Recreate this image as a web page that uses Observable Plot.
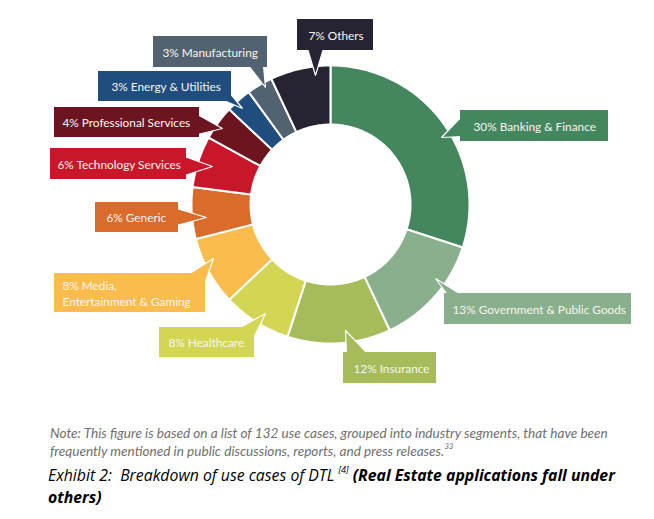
<!DOCTYPE html>
<html><head><meta charset="utf-8">
<script src="https://cdn.jsdelivr.net/npm/d3@7"></script>
<script src="https://cdn.jsdelivr.net/npm/@observablehq/plot@0.6"></script>
<style>
body{margin:0;background:#fff;width:654px;height:519px;overflow:hidden;position:relative;font-family:Lato,"Open Sans",sans-serif}
#chart{position:absolute;left:0;top:0}
#note{position:absolute;left:50px;top:424px;width:604px;font-style:italic;color:#6f6f6f;font-size:13.6px;line-height:18px;white-space:nowrap}
#note sup{font-size:8px;vertical-align:top;line-height:8px}
.cap{position:absolute;left:48px;white-space:nowrap;font-style:italic;color:#000;font-family:"Open Sans",sans-serif;font-size:15.8px;line-height:21px}
.cap sup{font-size:9px;vertical-align:top;line-height:9px}
</style></head><body>
<div id="chart"></div>
<div id="note">Note: This figure is based on a list of 132 use cases, grouped into industry segments, that have been<br>frequently mentioned in public discussions, reports, and press releases.<sup>33</sup></div>
<div class="cap" style="top:465px">Exhibit 2:&nbsp; Breakdown of use cases of DTL <sup>[4]</sup> <b>(Real Estate applications fall under</b></div>
<div class="cap" style="top:487px"><b>others)</b></div>
<script>
// ---- data ----
const categories = ["Banking & Finance","Government & Public Goods","Insurance","Healthcare","Media, Entertainment & Gaming","Generic","Technology Services","Professional Services","Energy & Utilities","Manufacturing","Others"];
const shares = [30,13,12,8,8,6,6,4,3,3,7];
const labels = ["30% Banking & Finance","13% Government & Public Goods","12% Insurance","8% Healthcare","8% Media,\nEntertainment & Gaming","6% Generic","6% Technology Services","4% Professional Services","3% Energy & Utilities","3% Manufacturing","7% Others"];
const colors = ["#44875f","#89b08c","#a6bc5b","#d3d654","#fbbc4e","#d96b2b","#c8172a","#6c1520","#1f4d7e","#536271","#262333"];

// ---- layout (pixel placement of donut and callouts) ----
const W = 654, H = 420;
const cx = 330, cy = 204, R = 139, r0 = 80;
// callout boxes [x1,y1,x2,y2], pointer [base1, base2, tip], text x
const boxes = [
  [460,110,608,141],[444,293,631,324],[343,352,436,383],[159,327,254,357],[54,273,205,312],
  [95,202,178,232],[50,148,186,179],[54,107,199,137],[98,71,231,101],[153,36,267,67],[297,19,373,50]
];
const pointers = [
  [[462,115],[462,136],[441,137]],
  [[446,293],[459,293],[435,278]],
  [[346,354],[368,354],[345,330]],
  [[236,329],[252,340],[265,313]],
  [[186,275],[203,287],[213,258]],
  [[176,208],[176,225],[206,217]],
  [[184,156],[184,175],[212,166]],
  [[197,114],[197,134],[222,128]],
  [[221,99],[229,92],[242,108]],
  [[248,65],[263,65],[265,87]],
  [[307,48],[323,48],[315,75]]
];
const textX = [473,452,353,168,62,106,57,62,111,162,308];

// ---- build geometry from data ----
const total = d3.sum(shares);
let acc = 0;
const slicePts = [];
shares.forEach((v, i) => {
  const a0 = acc / total * 2 * Math.PI;
  acc += v;
  const a1 = acc / total * 2 * Math.PI;
  const n = Math.max(8, Math.ceil(v * 3));
  const pts = [];
  for (let k = 0; k <= n; k++) { const a = a0 + (a1 - a0) * k / n; pts.push([cx + R * Math.sin(a), cy - R * Math.cos(a)]); }
  for (let k = n; k >= 0; k--) { const a = a0 + (a1 - a0) * k / n; pts.push([cx + r0 * Math.sin(a), cy - r0 * Math.cos(a)]); }
  pts.push(pts[0]);
  pts.forEach(p => slicePts.push({cat: categories[i], x: p[0], y: p[1]}));
});
const pointerPts = [];
pointers.forEach((tri, i) => [...tri, tri[0]].forEach(p => pointerPts.push({cat: categories[i], x: p[0], y: p[1]})));
const callouts = categories.map((c, i) => ({cat: c, label: labels[i], x1: boxes[i][0], y1: boxes[i][1], x2: boxes[i][2], y2: boxes[i][3], tx: textX[i], ty: (boxes[i][1] + boxes[i][3]) / 2}));

const chart = Plot.plot({
  width: W, height: H,
  margin: 0,
  x: {type: "identity", axis: null},
  y: {type: "identity", axis: null},
  color: {domain: categories, range: colors},
  marks: [
    Plot.line(slicePts, {x: "x", y: "y", z: "cat", fill: "cat", stroke: "white", strokeWidth: 2, curve: "linear"}),
    Plot.line(pointerPts, {x: "x", y: "y", z: "cat", fill: "cat", stroke: "white", strokeWidth: 1.2, strokeLinejoin: "miter", curve: "linear"}),
    Plot.rect(callouts, {x1: "x1", x2: "x2", y1: "y1", y2: "y2", fill: "cat"}),
    Plot.text(callouts, {x: "tx", y: "ty", text: "label", fill: "#f8f6ef", textAnchor: "start", fontSize: 11.8, fontFamily: "Lato", lineHeight: 1.3})
  ]
});
document.getElementById("chart").appendChild(chart);
</script>
</body></html>
